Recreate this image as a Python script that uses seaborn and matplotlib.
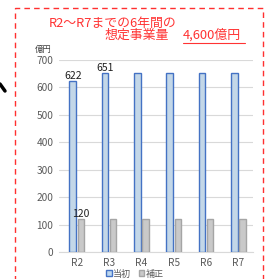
import matplotlib
matplotlib.use("Agg")
import matplotlib.pyplot as plt
import matplotlib.patches as mpatches
import pandas as pd
import seaborn as sns

years = ["R2", "R3", "R4", "R5", "R6", "R7"]
initial = [622, 651, 651, 651, 651, 651]
supplementary = [120, 120, 120, 120, 120, 120]
series_names = ["当初", "補正"]
shown_initial = ["622", "651", "", "", "", ""]
shown_supp = ["120", "", "", "", "", ""]

sns.set_style("white")
plt.rcParams["font.family"] = ["Noto Sans CJK JP", "DejaVu Sans"]

df = pd.DataFrame({
    "year": years * 2,
    "value": initial + supplementary,
    "series": [series_names[0]] * len(years) + [series_names[1]] * len(years),
})

fig = plt.figure(figsize=(2.70, 2.79), dpi=100)
ax = fig.add_axes([0.2185, 0.0968, 0.7185, 0.688])

sns.barplot(data=df, x="year", y="value", hue="series", ax=ax,
            palette=["#BDD7EE", "#C9C9C9"], width=0.5, gap=0.18,
            legend=False, zorder=3)

edges = ["#4472C4", "#A5A5A5"]
for cont, ec in zip(ax.containers, edges):
    for bar in cont:
        bar.set_edgecolor(ec)
        bar.set_linewidth(1.0)

ax.bar_label(ax.containers[0], labels=shown_initial, fontsize=7.5,
             color="#202020", padding=0)
ax.bar_label(ax.containers[1], labels=shown_supp, fontsize=7.5,
             color="#202020", padding=0)

ax.set_ylim(0, 700)
ax.set_yticks(range(0, 701, 100))
ax.set_xlim(-0.55, 5.45)
ax.yaxis.grid(True, color="#D9D9D9", linewidth=0.8, zorder=0)
ax.set_xlabel("")
ax.set_ylabel("")
for s in ["top", "right", "left"]:
    ax.spines[s].set_visible(False)
ax.spines["bottom"].set_color("#D9D9D9")
ax.tick_params(axis="both", length=0, labelsize=7.3, colors="#595959", pad=4)

fig.text(43 / 270, 1 - 49 / 279, "億円", fontsize=6, color="#404040",
         ha="center", va="center")

red = "#FF3333"
fig.text(49 / 270, 1 - 23 / 279, "R2～R7までの6年間の", fontsize=9.3,
         color=red, ha="left", va="center")
fig.text(105 / 270, 1 - 35 / 279, "想定事業量", fontsize=9.3,
         color=red, ha="left", va="center")
fig.text(183 / 270, 1 - 35 / 279, "4,600億円", fontsize=9.3,
         color=red, ha="left", va="center")
fig.add_artist(plt.Line2D([183 / 270, 245 / 270], [1 - 43 / 279, 1 - 43 / 279],
                          color=red, linewidth=0.8))

# dashed red frame
fig.add_artist(mpatches.Rectangle((15 / 270, -0.05), 248 / 270, 1 - 8 / 279 + 0.05,
                                  fill=False, edgecolor="#FF3030", linestyle=(0, (4, 3)),
                                  linewidth=1.0))

# piece of black arrow at the left
fig.add_artist(plt.Line2D([0, 5 / 270], [1 - 84 / 279, 1 - 91 / 279],
                          color="black", linewidth=2.5))

handles = [mpatches.Patch(facecolor="#BDD7EE", edgecolor="#4472C4", label=series_names[0]),
           mpatches.Patch(facecolor="#C9C9C9", edgecolor="#A5A5A5", label=series_names[1])]
fig.legend(handles=handles, loc="center", bbox_to_anchor=(135 / 270, 1 - 274 / 279),
           ncol=2, frameon=False, fontsize=6.5, handlelength=0.6, handleheight=0.6,
           handletextpad=0.2, columnspacing=0.8, labelcolor="#595959")

fig.savefig("out.png", dpi=100)
